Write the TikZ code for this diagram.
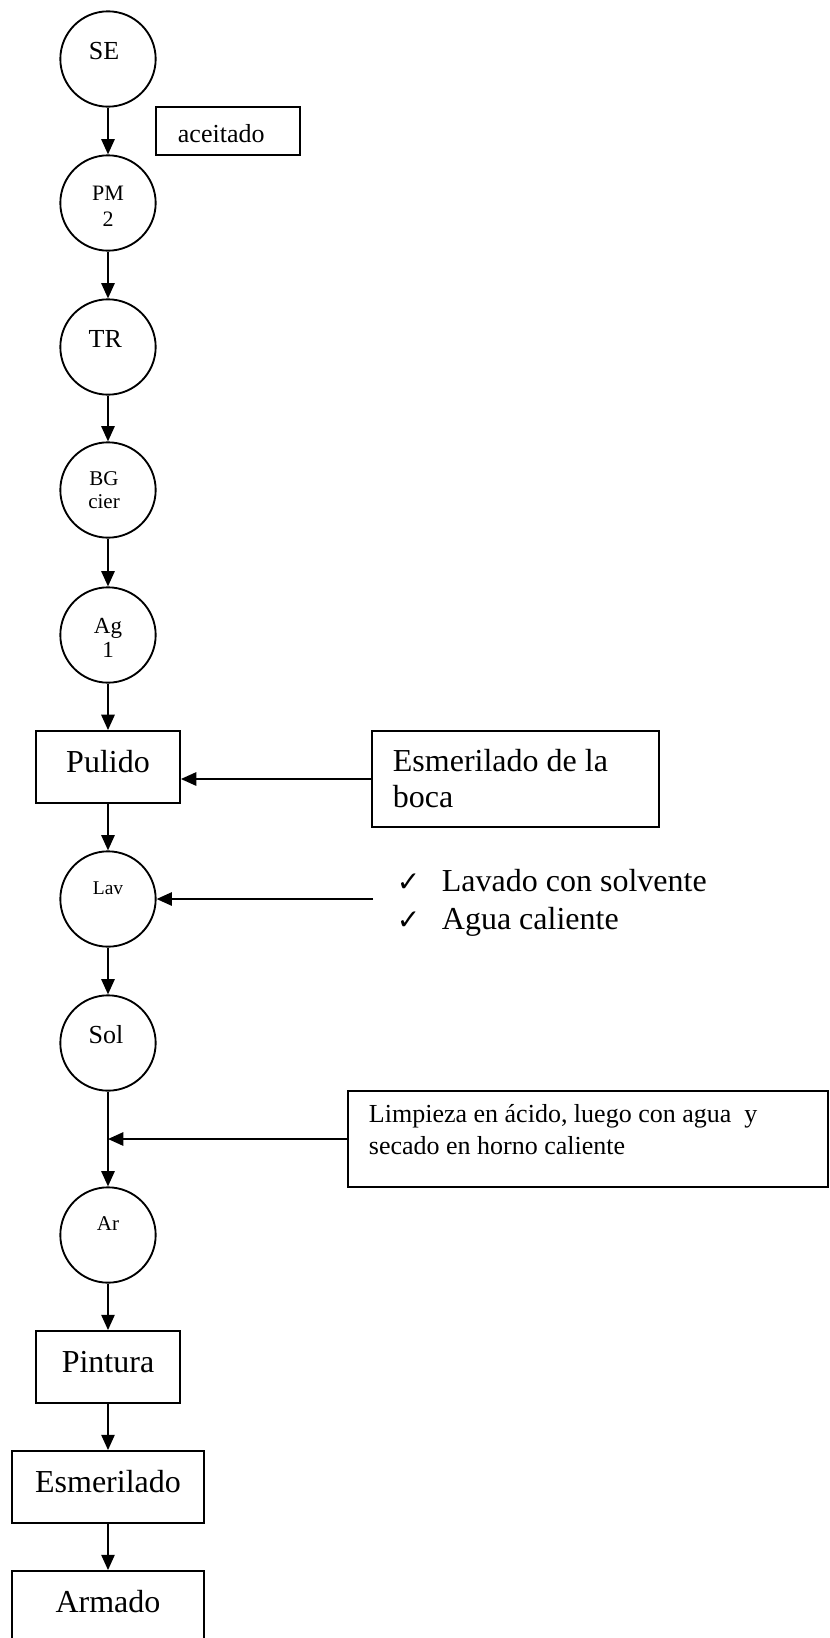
\documentclass[tikz,border=0pt]{standalone}
\usepackage{fontspec}
\setmainfont{Liberation Serif}
\newfontfamily\chkfont{DejaVu Sans}
\usetikzlibrary{arrows.meta}
\newcommand\fsz[2]{\fontsize{#1}{#2}\selectfont}
\newcommand\twol[2]{\begin{tabular}[t]{@{}c@{}}#1\\#2\end{tabular}}
\newcommand\chkmk{\makebox[33.75pt][l]{\chkfont\bfseries\fontsize{21pt}{21pt}\selectfont ✓}}
\begin{document}
\begin{tikzpicture}[x=0.75pt,y=-0.75pt,
  line width=1.4pt,
  arr/.style={-{Triangle[length=11.5pt,width=10pt]}},
  circ/.style={draw,circle,minimum size=71.5pt,inner sep=0pt,text height=0pt},
  boxn/.style={draw,rectangle,inner sep=0pt,text height=7.5pt,text depth=0pt},
  txt/.style={inner sep=0pt,anchor=base west},
  big/.style={font=\fsz{24pt}{27pt}}
]
\useasboundingbox (0,0) rectangle (829,1638);

% process circles
\node[circ,text depth=0pt,font=\fsz{19.5pt}{22pt}] (se) at (108,59) {\kern-6pt SE};
\node[circ,text depth=4.5pt,font=\fsz{16.5pt}{19.5pt}] (pm) at (108,203) {\twol{PM}{2}};
\node[circ,text depth=0pt,font=\fsz{19.5pt}{22pt}] (tr) at (108,347) {\kern-4pt TR};
\node[circ,text depth=7.5pt,font=\fsz{15.75pt}{17.25pt}] (bg) at (108,490) {\kern-6pt\twol{BG}{cier}};
\node[circ,text depth=3pt,font=\fsz{17.25pt}{18pt}] (ag) at (108,635) {\twol{Ag}{1}};
\node[circ,text depth=7.5pt,font=\fsz{14.6pt}{16pt}] (lav) at (108,899) {Lav};
\node[circ,text depth=0pt,font=\fsz{19.5pt}{22pt}] (sol) at (108,1043) {\kern-3pt Sol};
\node[circ,text depth=7.5pt,font=\fsz{15.75pt}{18pt}] (ar) at (108,1235) {Ar};

% boxes
\node[boxn,minimum width=108pt,minimum height=36pt] (acei) at (228,131) {};
\node[txt,font=\fsz{19.5pt}{22pt}] (aceiT) at (177,142) {aceitado};
\node[boxn,big,minimum width=108pt,minimum height=54pt] (pul) at (108,767) {Pulido};
\node[boxn,minimum width=215.25pt,minimum height=72pt] (esmb) at (515.5,779) {};
\node[txt,font=\fsz{24pt}{27.5pt}] (esmbT) at (392,771)
  {\begin{tabular}[t]{@{}l@{}}Esmerilado de la\\boca\end{tabular}};
\node[txt,font=\fsz{24pt}{29pt}] (chk) at (396,891)
  {\begin{tabular}[t]{@{}l@{}}\chkmk Lavado con solvente\\\chkmk Agua caliente\end{tabular}};
\node[boxn,minimum width=360pt,minimum height=72pt] (limp) at (588,1139) {};
\node[txt,font=\fsz{19.5pt}{24.4pt}] (limpT) at (368,1122)
  {\begin{tabular}[t]{@{}l@{}}Limpieza en ácido, luego con agua\ \ y\\secado en horno caliente\end{tabular}};
\node[boxn,big,minimum width=108pt,minimum height=54pt] (pin) at (108,1367) {Pintura};
\node[boxn,big,minimum width=144pt,minimum height=54pt] (esm) at (108,1487) {Esmerilado};
\node[boxn,big,minimum width=144pt,minimum height=54pt] (arm) at (108,1607) {Armado};

% connectors
\draw[arr] (se) -- (pm);
\draw[arr] (pm) -- (tr);
\draw[arr] (tr) -- (bg);
\draw[arr] (bg) -- (ag);
\draw[arr] (ag) -- (pul);
\draw[arr] (pul) -- (lav);
\draw[arr] (lav) -- (sol);
\draw[arr] (sol) -- (ar);
\draw[arr] (ar) -- (pin);
\draw[arr] (pin) -- (esm);
\draw[arr] (esm) -- (arm);
\draw[arr] (esmb.west) -- (esmb.west -| pul.east);
\coordinate (lavin) at (373,899);
\draw[arr] (lavin) -- (lav.east);
\coordinate (jn) at (sol.south |- limp.west);
\draw[arr] (limp.west) -- (jn);
\end{tikzpicture}
\end{document}
